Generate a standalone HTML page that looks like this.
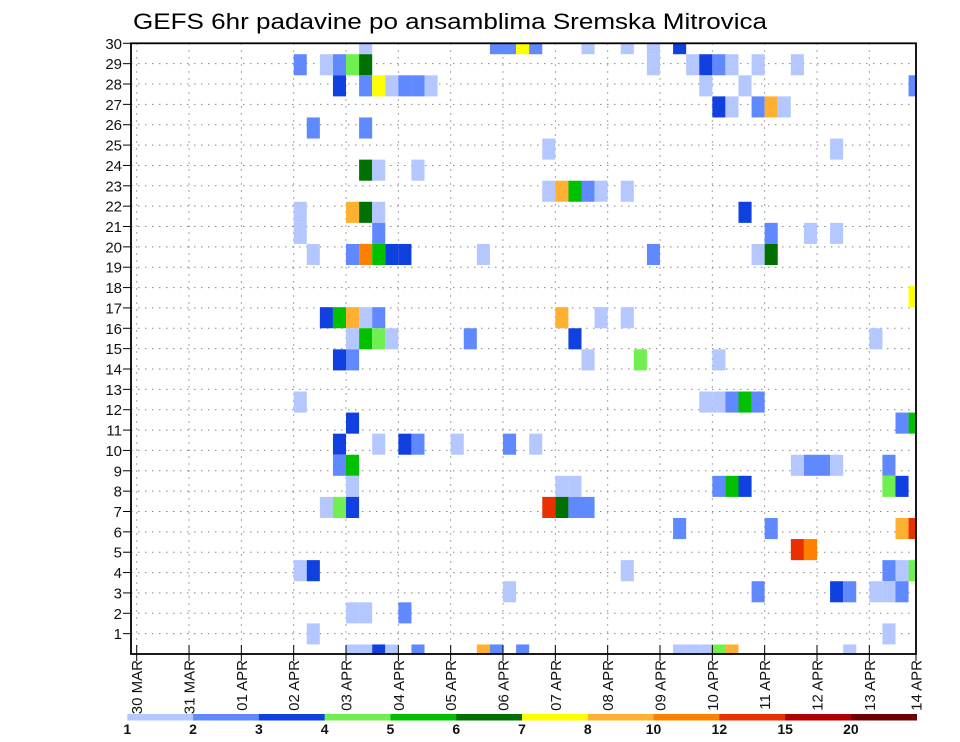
<!DOCTYPE html>
<html><head><meta charset="utf-8">
<style>
html,body{margin:0;padding:0;background:#fff;}
svg{display:block;font-family:"Liberation Sans",sans-serif;}
</style></head>
<body>
<svg id="chart" width="960" height="742" viewBox="0 0 960 742" xmlns="http://www.w3.org/2000/svg">
<rect x="0" y="0" width="960" height="742" fill="#fff"/>
<text x="133" y="29" font-size="22" textLength="634" lengthAdjust="spacingAndGlyphs" fill="#000">GEFS 6hr padavine po ansamblima Sremska Mitrovica</text>
<defs><clipPath id="plotclip"><rect x="131" y="43.3" width="785" height="610.7"/></clipPath></defs>
<g id="grid"></g>
<g id="cells" clip-path="url(#plotclip)"></g>
<rect x="131" y="43.3" width="785" height="610.7" fill="none" stroke="#000" stroke-width="1.8"/>
<g id="yaxis"></g>
<g id="xaxis"></g>
<g id="legend"></g>
</svg>
<script>
// ---- data ----
const dayLabels = ["30  MAR","31  MAR","01  APR","02  APR","03  APR","04  APR","05  APR","06  APR","07  APR","08  APR","09  APR","10  APR","11  APR","12  APR","13  APR","14  APR"];
const memberTicks = [1,2,3,4,5,6,7,8,9,10,11,12,13,14,15,16,17,18,19,20,21,22,23,24,25,26,27,28,29,30];
const levelBounds = [1,2,3,4,5,6,7,8,10,12,15,20];
const levelColors = ["#b4c8ff","#6088ff","#1040e0","#70f050","#00c000","#007000","#ffff00","#ffb030","#ff8000","#e83000","#b00000","#700000"];
// cells: ensemble member (row), 6-hour step index (from 30 MAR 00z), precipitation mm
const cellMember = [
30,30,30,30,30,30,30,30,30,
29,29,29,29,29,29,29,29,29,29,29,29,
28,28,28,28,28,28,28,28,28,28,
27,27,27,27,27,
26,26,
25,25,
24,24,24,
23,23,23,23,23,23,
22,22,22,22,22,
21,21,21,21,21,
20,20,20,20,20,20,20,20,20,20,
18,
17,17,17,17,17,17,17,17,
16,16,16,16,16,16,16,
15,15,15,15,15,
13,13,13,13,13,13,
12,12,12,
11,11,11,11,11,11,11,
10,10,10,10,10,10,10,
9,9,9,9,9,9,9,9,
8,8,8,8,8,8,8,
7,7,7,7,
6,6,
5,5,5,5,5,5,
4,4,4,4,4,4,4,
3,3,3,
2,2,
1,1,1,1,1,1,1,1,1,1,1,1,1,1];
const cellStep = [
17,27,28,29,30,34,37,39,41,
12,14,15,16,17,39,42,43,44,45,47,50,
15,17,18,19,20,21,22,43,46,59,
44,45,47,48,49,
13,17,
31,53,
17,18,21,
31,32,33,34,35,37,
12,16,17,18,46,
12,18,48,51,53,
13,16,17,18,19,20,26,39,47,48,
59,
14,15,16,17,18,32,35,37,
16,17,18,19,25,33,56,
15,16,34,38,44,
12,43,44,45,46,47,
16,58,59,
15,18,20,21,24,28,30,
15,16,50,51,52,53,57,
16,32,33,44,45,46,57,58,
14,15,16,31,32,33,34,
41,48,58,59,
50,51,
12,13,37,57,58,59,
28,47,53,54,56,57,58,
16,17,20,
13,57,
16,17,18,19,21,26,27,29,41,42,43,44,45,54];
const cellPrecip = [
1.5,2.5,2.5,7.5,2.5,1.5,1.5,1.5,3.5,
2.5,1.5,2.5,4.5,6.5,1.5,1.5,3.5,2.5,1.5,1.5,1.5,
3.5,2.5,7.5,1.5,2.5,2.5,1.5,1.5,1.5,2.5,
3.5,1.5,2.5,9,1.5,
2.5,2.5,
1.5,1.5,
6.5,1.5,1.5,
1.5,9,5.5,2.5,1.5,1.5,
1.5,9,6.5,1.5,3.5,
1.5,2.5,2.5,1.5,1.5,
1.5,2.5,11,5.5,3.5,3.5,1.5,2.5,1.5,6.5,
7.5,
3.5,5.5,9,1.5,2.5,9,1.5,1.5,
1.5,5.5,4.5,1.5,2.5,3.5,1.5,
3.5,2.5,1.5,4.5,1.5,
1.5,1.5,1.5,2.5,5.5,2.5,
3.5,2.5,5.5,
3.5,1.5,3.5,2.5,1.5,2.5,1.5,
2.5,5.5,1.5,2.5,2.5,1.5,2.5,
1.5,1.5,1.5,2.5,5.5,3.5,4.5,3.5,
1.5,4.5,3.5,13.5,6.5,2.5,2.5,
2.5,2.5,9,13.5,
13.5,11,
1.5,3.5,1.5,2.5,1.5,4.5,
1.5,2.5,3.5,2.5,1.5,1.5,2.5,
1.5,1.5,2.5,
1.5,1.5,
1.5,1.5,3.5,1.5,2.5,9,2.5,2.5,1.5,1.5,1.5,4.5,9,1.5];

// ---- axis functions ----
const NS="http://www.w3.org/2000/svg";
const PL=131, PR=916, PT=43.3, PB=654;
const X0=136.7, DAYW=52.33, STEPW=DAYW/4;
const xDay = d => X0 + d*DAYW;
const xStep = s => X0 + s*STEPW;
const ROWH=21.08;
const yMember = m => 655 - (m-1)*ROWH;
const yTick = r => PB - r*(PB-PT)/30;
function colorFor(v){let i=0;for(let k=0;k<levelBounds.length;k++){if(v>=levelBounds[k])i=k;}return levelColors[i];}
function mk(tag,attrs,parent){const e=document.createElementNS(NS,tag);for(const k in attrs)e.setAttribute(k,attrs[k]);parent.appendChild(e);return e;}

// grid
const grid=document.getElementById('grid');
for(let r=1;r<30;r++){
  const l=mk('line',{x1:PL,x2:PR,y1:yTick(r),y2:yTick(r),stroke:'#888','stroke-width':1,'stroke-dasharray':'1.5 5.5'},grid);
  
  
}
for(let d=0;d<dayLabels.length-1;d++){
  const l=mk('line',{x1:xDay(d),x2:xDay(d),y1:PT,y2:PB,stroke:'#888','stroke-width':1,'stroke-dasharray':'1.5 5.5'},grid);
  
  
}

// cells
const cells=document.getElementById('cells');
for(let i=0;i<cellMember.length;i++){
  const r=mk('rect',{x:xStep(cellStep[i]),y:yMember(cellMember[i])-ROWH/2,width:STEPW,height:ROWH,fill:colorFor(cellPrecip[i])},cells);
  
  
}

// y axis
const ya=document.getElementById('yaxis');
memberTicks.forEach(r=>{
  const y=yTick(r);
  mk('line',{x1:123,x2:PL,y1:y,y2:y,stroke:'#000','stroke-width':1},ya);
  const t=mk('text',{x:122,y:y+5.5,'font-size':15,'text-anchor':'end',fill:'#111'},ya);
  t.textContent=r;
  
  
});

// x axis
const xa=document.getElementById('xaxis');
dayLabels.forEach((lab,d)=>{
  const x = d===dayLabels.length-1 ? PR : xDay(d);
  mk('line',{x1:x,x2:x,y1:PB-9,y2:PB+7,stroke:'#000','stroke-width':1},xa);
  const t=mk('text',{x:0,y:0,'font-size':15,'text-anchor':'end',fill:'#111',transform:`translate(${x+5.5},${660}) rotate(-90)`},xa);
  t.setAttribute('xml:space','preserve');
  t.textContent=lab;
  
  
});

// legend
const lg=document.getElementById('legend');
const LX0=127.3, LX1=916.7, LW=(LX1-LX0)/levelColors.length;
levelColors.forEach((c,i)=>{
  const r=mk('rect',{x:LX0+i*LW,y:714,width:LW+0.3,height:6.5,fill:c},lg);
  
  
});
levelBounds.forEach((b,i)=>{
  const t=mk('text',{x:LX0+i*LW,y:734,'font-size':14,'font-weight':'bold','text-anchor':'middle',fill:'#111'},lg);
  t.textContent=b;
  
  
});
</script>
</body></html>
